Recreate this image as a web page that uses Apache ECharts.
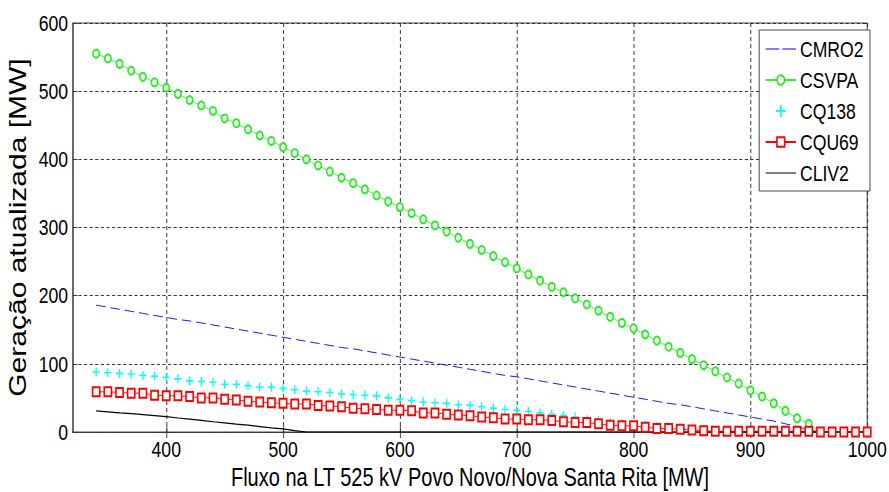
<!DOCTYPE html>
<html>
<head>
<meta charset="utf-8">
<script src="https://cdn.jsdelivr.net/npm/echarts@6/dist/echarts.min.js"></script>
<style>
  html, body { margin: 0; padding: 0; background: #fff; overflow: hidden; }
  /* the reference is squeezed horizontally, so draw wider and compress */
  #main { width: 1111px; height: 492px; transform: scaleX(0.8); transform-origin: 0 0; }
</style>
</head>
<body>
<div id="main"></div>
<script>
// fluxo na LT (MW)
const fluxo = [340, 350, 360, 370, 380, 390, 400, 410, 420, 430, 440, 450, 460, 470, 480, 490,
  500, 510, 520, 530, 540, 550, 560, 570, 580, 590, 600, 610, 620, 630, 640, 650, 660, 670, 680, 690,
  700, 710, 720, 730, 740, 750, 760, 770, 780, 790, 800, 810, 820, 830, 840, 850, 860, 870, 880, 890,
  900, 910, 920, 930, 940, 950, 960, 970, 980, 990, 1000];

const cmro2 = [186, 183, 180, 177, 174, 171, 168, 165, 163, 160, 157, 154, 151, 148, 145, 142,
  139, 136, 133, 130, 127, 124, 122, 119, 116, 113, 110, 107, 104, 101, 98, 95, 92, 89, 86, 83,
  81, 78, 75, 72, 69, 66, 63, 60, 57, 54, 51, 48, 45, 42, 40, 37, 34, 31, 28, 25,
  22, 19, 16, 12, 8, 3, 0, 0, 0, 0, 0];

const csvpa = [555, 548, 540, 530, 521, 513, 505, 496, 487, 479, 471, 460, 453, 444, 435, 427,
  418, 409, 400, 391, 382, 373, 365, 356, 347, 338, 330, 321, 312, 303, 294, 285, 276, 267, 258, 249,
  240, 231, 222, 213, 205, 196, 187, 178, 169, 160, 152, 143, 134, 125, 116, 107, 98, 89, 80, 71,
  61, 52, 42, 31, 20, 12, 0, 0, 0, 0, 0];

const cq138 = [88, 87, 86, 85, 83, 82, 80, 78, 75, 74, 73, 70, 70, 68, 66, 66,
  64, 62, 60, 59, 58, 56, 55, 54, 53, 50, 48, 46, 44, 43, 42, 40, 39, 37, 35, 33,
  32, 30, 28, 26, 24, 22, 18, 17, 14, 12, 10, 9, 8, 7, 6, 4, 3, 2, 2, 2,
  1, 1, 1, 1, 1, 0, 0, 0, 0, 0, 0];

const cqu69 = [59, 59, 58, 57, 57, 54, 53, 53, 52, 50, 50, 48, 47, 45, 44, 43,
  42, 41, 41, 39, 38, 37, 35, 34, 33, 32, 32, 31, 28, 28, 26, 25, 24, 22, 21, 19,
  19, 18, 18, 17, 15, 14, 14, 12, 10, 9, 9, 7, 5, 5, 4, 3, 2, 1, 1, 1,
  1, 1, 1, 1, 1, 1, 0, 0, 0, 0, 0];

const cliv2 = [31, 29.5, 28, 27, 25.5, 24, 22.5, 20.5, 19, 17, 15, 13.5, 11.5, 10, 8, 6,
  4.5, 2, 0, 0, 0, 0, 0, 0, 0, 0, 0, 0, 0, 0, 0, 0, 0, 0, 0, 0,
  0, 0, 0, 0, 0, 0, 0, 0, 0, 0, 0, 0, 0, 0, 0, 0, 0, 0, 0, 0,
  0, 0, 0, 0, 0, 0, 0, 0, 0, 0, 0];

const xTicks = [400, 500, 600, 700, 800, 900, 1000];

const FONT = "'Liberation Sans', Arial, Helvetica, sans-serif";
const plusIcon = 'path://M-0.9,-5H0.9V-0.9H5V0.9H0.9V5H-0.9V0.9H-5V-0.9H-0.9Z';
// legend icons (38x12 box): dashed line and plain line
const dashIcon = 'path://M0,0L0,0M0,12L0,12M0,5.5H17V6.5H0ZM21,5.5H38V6.5H21Z';
const lineIcon = 'path://M0,0L0,0M0,12L0,12M0,5.5H38V6.5H0Z';

const pairs = (ys) => fluxo.map((x, i) => [x, ys[i]]);

const chart = echarts.init(document.getElementById('main'), null, { renderer: 'svg' });

const gridLine = { show: true, lineStyle: { color: '#222', width: 1, type: [4, 3] } };

const option = {
  backgroundColor: '#fff',
  animation: false,
  textStyle: { fontFamily: FONT, color: '#000' },
  grid: {
    left: 91, right: 27, top: 23, bottom: 60,
    show: true, borderColor: '#333', borderWidth: 1,
    outerBoundsMode: 'none'
  },
  legend: {
    orient: 'vertical',
    left: 949, top: 30,
    padding: [8, 8, 7, 7],
    itemWidth: 38, itemHeight: 12, itemGap: 9,
    backgroundColor: '#fff',
    borderColor: '#333', borderWidth: 1,
    textStyle: { fontFamily: FONT, fontSize: 22, color: '#000' },
    data: [
      { name: 'CMRO2', icon: dashIcon },
      'CSVPA',
      'CQ138',
      'CQU69',
      { name: 'CLIV2', icon: lineIcon }
    ]
  },
  xAxis: [{
    type: 'value', min: 320, max: 1000,
    name: 'Fluxo na LT 525 kV Povo Novo/Nova Santa Rita [MW]',
    nameLocation: 'middle', nameGap: 30,
    nameTextStyle: { fontFamily: FONT, fontSize: 25, color: '#000' },
    axisLine: { show: true, onZero: false, lineStyle: { color: '#333' } },
    axisTick: { show: true, inside: true, length: 6, customValues: xTicks, lineStyle: { color: '#333' } },
    axisLabel: {
      customValues: xTicks, fontFamily: FONT, fontSize: 22, color: '#000', margin: 6,
      formatter: (v) => String(v)
    },
    splitLine: gridLine
  }, {
    type: 'value', min: 320, max: 1000, position: 'top',
    axisLine: { show: false },
    axisTick: { show: true, inside: true, length: 6, customValues: xTicks, lineStyle: { color: '#333' } },
    axisLabel: { show: false },
    splitLine: { show: false }
  }],
  yAxis: [{
    type: 'value', min: 0, max: 600, interval: 100,
    name: 'Geração atualizada [MW]',
    nameLocation: 'middle', nameGap: 44,
    nameTextStyle: { fontFamily: FONT, fontSize: 30, color: '#000' },
    axisLine: { show: true, lineStyle: { color: '#333' } },
    axisTick: { show: true, inside: true, length: 6, lineStyle: { color: '#333' } },
    axisLabel: { fontFamily: FONT, fontSize: 22, color: '#000', margin: 6 },
    splitLine: gridLine
  }, {
    type: 'value', min: 0, max: 600, interval: 100, position: 'right',
    axisLine: { show: false },
    axisTick: { show: true, inside: true, length: 6, lineStyle: { color: '#333' } },
    axisLabel: { show: false },
    splitLine: { show: false }
  }],
  series: [
    {
      name: 'CMRO2', type: 'line', data: pairs(cmro2),
      symbol: 'none',
      lineStyle: { color: '#0000ff', width: 1, type: [12, 6] },
      itemStyle: { color: '#0000ff' }
    },
    {
      name: 'CSVPA', type: 'line', data: pairs(csvpa),
      symbol: 'emptyCircle', symbolSize: 8, showAllSymbol: true,
      lineStyle: { color: '#33ee33', width: 1 },
      itemStyle: { color: '#22ee22', borderColor: '#22ee22', borderWidth: 1 }
    },
    {
      name: 'CQ138', type: 'scatter', data: pairs(cq138),
      symbol: plusIcon, symbolSize: 9,
      itemStyle: { color: '#00ffff', opacity: 1 }
    },
    {
      name: 'CQU69', type: 'line', data: pairs(cqu69),
      symbol: 'emptyRect', symbolSize: 9, showAllSymbol: true,
      lineStyle: { color: '#ff0000', width: 1 },
      itemStyle: { color: '#ff0000', borderColor: '#ff0000', borderWidth: 1 }
    },
    {
      name: 'CLIV2', type: 'line', data: pairs(cliv2),
      symbol: 'none',
      lineStyle: { color: '#000', width: 1.2 },
      itemStyle: { color: '#000' }
    }
  ]
};

chart.setOption(option);
</script>
</body>
</html>
